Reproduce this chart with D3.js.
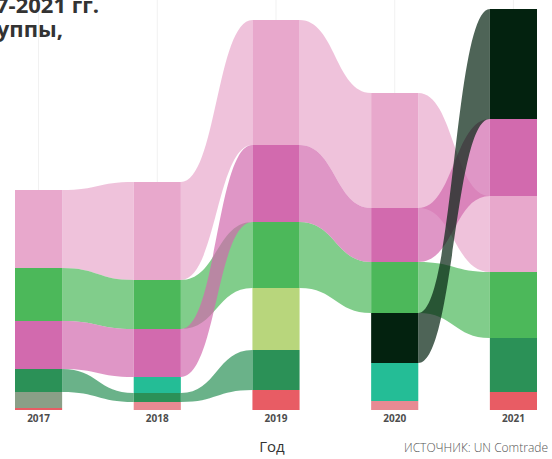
<!DOCTYPE html>
<html>
<head>
<meta charset="utf-8">
<script src="https://cdn.jsdelivr.net/npm/d3@7"></script>
<style>
  html, body { margin: 0; padding: 0; background: #fff; }
  svg { display: block; font-family: "Open Sans", "Noto Sans", sans-serif; }
</style>
</head>
<body>
<svg id="chart" width="552" height="459"></svg>
<script>
// ---- data ----
const years = ["2017", "2018", "2019", "2020", "2021"];

const seriesNames = ["Группа 1", "Группа 2", "Группа 3", "Группа 4", "Группа 5",
                     "Группа 6", "Группа 7", "Группа 8", "Группа 9", "Группа 10"];
const lightPinkValues   = [78, 98, 125, 115, 76];
const greenValues       = [53, 49, 66, 51, 66];
const magentaValues     = [48, 48, 77, 54, 77];
const darkGreenValues   = [23, 9, 40, null, 54];
const greyGreenValues   = [16, null, null, null, null];
const redValues         = [2, null, 20, null, 18];
const tealValues        = [null, 16, null, 38, null];
const salmonValues      = [null, 8, null, 9, null];
const yellowGreenValues = [null, null, 62, null, null];
const blackValues       = [null, null, null, 50, 110];

const seriesColors = ["#e8a8cc", "#4cb85a", "#d26aae", "#2b9157", "#8a9f87",
                      "#e85c64", "#24bd96", "#e88a93", "#b8d67c", "#03220f"];

const titleLines = ["Структура импорта в 2017-2021 гг.", "по товарам: основные группы,"];
const axisTitle = "Год";
const sourceText = "ИСТОЧНИК: UN Comtrade";

const allValues = [lightPinkValues, greenValues, magentaValues, darkGreenValues, greyGreenValues,
                   redValues, tealValues, salmonValues, yellowGreenValues, blackValues];
const series = seriesNames.map((name, i) => ({ name, color: seriesColors[i], values: allValues[i] }));

// ---- layout ----
const svg = d3.select("#chart");
const x = d3.scaleBand().domain(years).range([15, 537]).paddingInner(0.603).paddingOuter(0);
const y = d3.scaleLinear().domain([0, 401]).range([410, 9]);

// stack per year: sorted descending, largest on top
const stacks = years.map((yr, yi) => {
  const items = series.map((s, si) => ({ si, v: s.values[yi] })).filter(d => d.v != null);
  items.sort((a, b) => a.v - b.v); // smallest first (bottom)
  let acc = 0;
  const pos = {};
  items.forEach(d => { pos[d.si] = { y0: acc, y1: acc + d.v }; acc += d.v; });
  return pos;
});

// faint vertical guide lines
svg.append("g").selectAll("line").data(years).join("line")
  .attr("x1", d => x(d) + x.bandwidth() / 2).attr("x2", d => x(d) + x.bandwidth() / 2)
  .attr("y1", 0).attr("y2", 410)
  .attr("stroke", "#f1f1f1").attr("stroke-width", 1);

// ribbons
const ribbons = [];
series.forEach((s, si) => {
  for (let i = 0; i < years.length - 1; i++) {
    const a = stacks[i][si], b = stacks[i + 1][si];
    if (a && b) ribbons.push({ si, i, a, b });
  }
});
function ribbonPath(d) {
  const x1 = x(years[d.i]) + x.bandwidth();
  const x2 = x(years[d.i + 1]);
  const xm = (x1 + x2) / 2;
  const t1 = y(d.a.y1), b1 = y(d.a.y0), t2 = y(d.b.y1), b2 = y(d.b.y0);
  const p = d3.path();
  p.moveTo(x1, t1);
  p.bezierCurveTo(xm, t1, xm, t2, x2, t2);
  p.lineTo(x2, b2);
  p.bezierCurveTo(xm, b2, xm, b1, x1, b1);
  p.closePath();
  return p.toString();
}
svg.append("g").selectAll("path").data(ribbons).join("path")
  .attr("d", ribbonPath)
  .attr("fill", d => series[d.si].color)
  .attr("fill-opacity", 0.7);

// bars
const bars = [];
years.forEach((yr, yi) => {
  Object.keys(stacks[yi]).forEach(si => bars.push({ yr, si: +si, p: stacks[yi][si] }));
});
svg.append("g").selectAll("rect").data(bars).join("rect")
  .attr("x", d => x(d.yr))
  .attr("width", x.bandwidth())
  .attr("y", d => y(d.p.y1))
  .attr("height", d => y(d.p.y0) - y(d.p.y1))
  .attr("fill", d => series[d.si].color);

// x axis labels
const xAxis = d3.axisBottom(x).tickSize(0).tickPadding(0);
const gx = svg.append("g").attr("transform", "translate(0,415)").call(xAxis);
gx.select(".domain").remove();
gx.selectAll("text")
  .attr("font-family", "'Open Sans', sans-serif")
  .attr("font-size", 10).attr("font-weight", 700).attr("fill", "#4d4d4d");

// axis title
svg.append("text").attr("x", 272).attr("y", 452).attr("text-anchor", "middle")
  .attr("font-size", 15).attr("fill", "#333").text(axisTitle);

// source
svg.append("text").attr("x", 548).attr("y", 452).attr("text-anchor", "end")
  .attr("font-size", 12).attr("font-weight", 300).attr("fill", "#555").text(sourceText);

// title (cut off at left, as in the reference)
svg.append("text").attr("x", 99).attr("y", 13).attr("text-anchor", "end")
  .attr("font-size", 22).attr("font-weight", 700).attr("fill", "#333").text(titleLines[0]);
svg.append("text").attr("x", 63).attr("y", 37).attr("text-anchor", "end")
  .attr("font-size", 22).attr("font-weight", 700).attr("fill", "#333").text(titleLines[1]);
</script>
</body>
</html>
